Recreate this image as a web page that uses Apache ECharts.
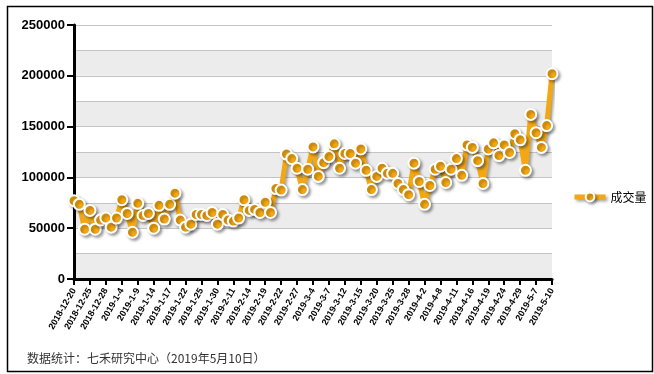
<!DOCTYPE html>
<html>
<head>
<meta charset="utf-8">
<script src="https://cdn.jsdelivr.net/npm/echarts@6/dist/echarts.min.js"></script>
<style>
html,body{margin:0;padding:0;background:#fff;}
#c{width:654px;height:374px;}
</style>
</head>
<body>
<div id="c"></div>
<script>
const categories = [
  '2018-12-20','2018-12-21','2018-12-24','2018-12-25','2018-12-26','2018-12-27','2018-12-28',
  '2019-1-2','2019-1-3','2019-1-4','2019-1-7','2019-1-8','2019-1-9','2019-1-10','2019-1-11',
  '2019-1-14','2019-1-15','2019-1-16','2019-1-17','2019-1-18','2019-1-21','2019-1-22','2019-1-23',
  '2019-1-24','2019-1-25','2019-1-28','2019-1-29','2019-1-30','2019-1-31',
  '2019-2-1','2019-2-11','2019-2-12','2019-2-13','2019-2-14','2019-2-15','2019-2-18','2019-2-19',
  '2019-2-20','2019-2-21','2019-2-22','2019-2-25','2019-2-26','2019-2-27','2019-2-28',
  '2019-3-1','2019-3-4','2019-3-5','2019-3-6','2019-3-7','2019-3-8','2019-3-11','2019-3-12',
  '2019-3-13','2019-3-14','2019-3-15','2019-3-18','2019-3-19','2019-3-20','2019-3-21','2019-3-22',
  '2019-3-25','2019-3-26','2019-3-27','2019-3-28','2019-3-29',
  '2019-4-1','2019-4-2','2019-4-3','2019-4-4','2019-4-8','2019-4-9','2019-4-10','2019-4-11',
  '2019-4-12','2019-4-15','2019-4-16','2019-4-17','2019-4-18','2019-4-19','2019-4-22','2019-4-23',
  '2019-4-24','2019-4-25','2019-4-26','2019-4-29','2019-4-30',
  '2019-5-6','2019-5-7','2019-5-8','2019-5-9','2019-5-10'
];
const volume = [
  77000,73500,49000,67500,49000,58000,60000,
  51000,60000,78000,64500,46000,74500,62500,64500,
  50000,72500,59000,73500,84500,58000,51000,54000,
  63500,63500,62500,65500,54000,63500,
  58000,57000,60000,78000,67500,68500,65500,75500,
  65500,89000,87500,123000,118500,109000,88000,
  108000,130000,101000,114500,120500,133000,109000,123500,
  123500,114000,128000,107000,88000,101000,109000,104000,
  104000,94000,88000,83000,114000,
  96000,73500,92000,108000,111000,95000,108000,118500,
  102000,132000,129500,116500,94000,128000,134000,121500,
  132000,124500,143000,137000,107000,
  162000,144000,129500,151000,202000
];
const seriesName = '成交量';
const footnote = '数据统计：七禾研究中心（2019年5月10日）';
const yMax = 250000;

const chart = echarts.init(document.getElementById('c'));
const orange = '#F3A712';
const shadow = { shadowColor: 'rgba(0,0,0,0.35)', shadowBlur: 3, shadowOffsetX: 2, shadowOffsetY: 2 };
chart.setOption({
  animation: false,
  backgroundColor: '#fff',
  grid: { left: 74, right: 102, top: 25, bottom: 95, containLabel: false },
  legend: {
    data: [seriesName],
    left: 567, top: 186,
    itemWidth: 31, itemHeight: 11,
    lineStyle: Object.assign({ color: orange, width: 5 }, shadow),
    itemStyle: Object.assign({ color: orange, borderColor: '#fff', borderWidth: 2 }, shadow),
    textStyle: { fontSize: 12, color: '#000', fontFamily: 'Noto Sans CJK SC' }
  },
  xAxis: {
    type: 'category',
    data: categories,
    boundaryGap: false,
    axisLine: { lineStyle: { color: '#000', width: 3 } },
    axisTick: { interval: 2, length: 6, lineStyle: { color: '#000', width: 2 } },
    axisLabel: {
      interval: 2, rotate: 60, fontSize: 9, fontWeight: 'bold',
      color: '#000', fontFamily: 'Liberation Sans', margin: 10
    },
    splitLine: { show: false }
  },
  yAxis: [
    {
      type: 'value', position: 'left', min: 0, max: yMax, interval: 25000,
      axisLine: { show: false }, axisTick: { show: false }, axisLabel: { show: false },
      splitLine: { show: true, lineStyle: { color: '#c4c4c4', width: 1 } },
      splitArea: { show: true, areaStyle: { color: ['#ececec', '#ffffff'] } }
    },
    {
      type: 'value', position: 'left', min: 0, max: yMax, interval: 50000,
      axisLine: { show: true, lineStyle: { color: '#000', width: 3 } },
      axisTick: { show: true, length: 7, lineStyle: { color: '#000', width: 2 } },
      axisLabel: {
        fontSize: 13, fontWeight: 'bold', color: '#000', fontFamily: 'Liberation Sans', margin: 9,
        formatter: function (v) { return String(v); }
      },
      splitLine: { show: false }, splitArea: { show: false }
    }
  ],
  series: [{
    name: seriesName,
    type: 'line',
    yAxisIndex: 0,
    data: volume,
    symbol: 'circle',
    symbolSize: 11,
    showAllSymbol: true,
    lineStyle: Object.assign({ color: orange, width: 5 }, shadow),
    itemStyle: Object.assign({ color: orange, borderColor: '#fff', borderWidth: 2 }, shadow),
    z: 3
  }],
  graphic: [
    {
      type: 'rect', left: 5, top: 4, z: 100, silent: true,
      shape: { width: 645, height: 365 },
      style: { fill: 'none', stroke: '#000', lineWidth: 1.5 }
    },
    {
      type: 'text', left: 27, top: 352, z: 100,
      style: { text: footnote, fontSize: 12, fill: '#333', fontFamily: 'Noto Sans CJK SC' }
    }
  ]
});
</script>
</body>
</html>
